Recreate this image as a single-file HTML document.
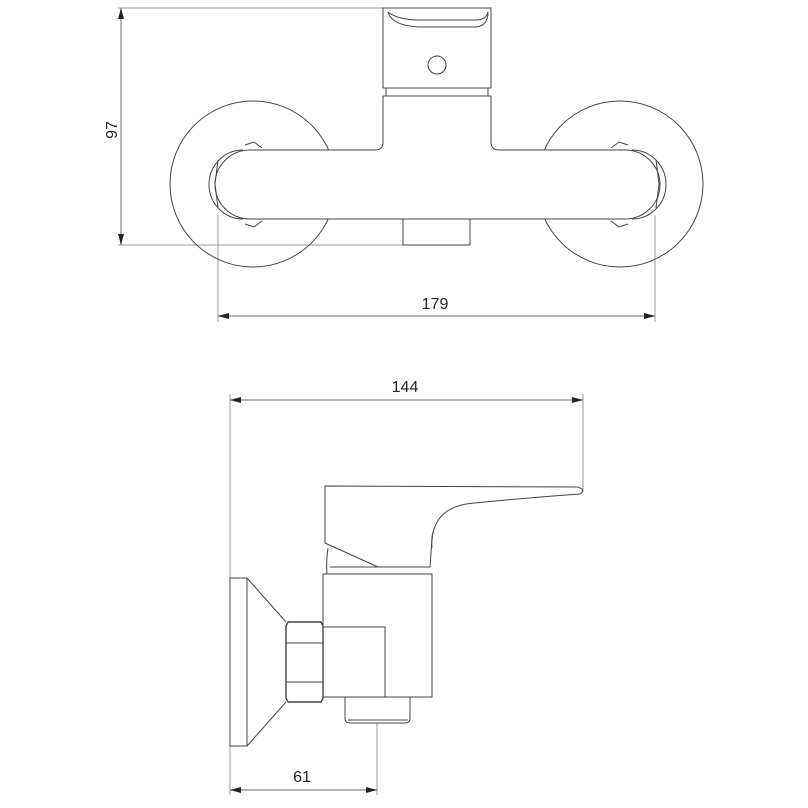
<!DOCTYPE html>
<html><head><style>
html,body{margin:0;padding:0;background:#fff;}
svg{display:block;}
text{font-family:"Liberation Sans",sans-serif;font-size:16px;fill:#222;}
</style></head><body>
<svg width="808" height="808" viewBox="0 0 808 808" xmlns="http://www.w3.org/2000/svg">
<g fill="none" stroke="#999" stroke-width="1">
<line x1="118" y1="8" x2="385" y2="8"/>
<line x1="118" y1="245" x2="470" y2="245"/>
<line x1="218" y1="215" x2="218" y2="322"/>
<line x1="655" y1="215" x2="655" y2="322"/>
<line x1="230" y1="394" x2="230" y2="795"/>
<line x1="583" y1="394" x2="583" y2="492"/>
<line x1="377" y1="723" x2="377" y2="795"/>
</g>
<g fill="none" stroke="#888" stroke-width="1.2">
<line x1="121" y1="8" x2="121" y2="245"/>
<line x1="218" y1="316" x2="655" y2="316"/>
<line x1="230" y1="400" x2="583" y2="400"/>
<line x1="230" y1="790" x2="377" y2="790"/>
</g>
<g fill="#222">
<polygon points="121,8 118,19 124,19"/>
<polygon points="121,245 118,234 124,234"/>
<polygon points="218,316 229,313 229,319"/>
<polygon points="655,316 644,313 644,319"/>
<polygon points="230,400 241,397 241,403"/>
<polygon points="583,400 572,397 572,403"/>
<polygon points="230,790 241,787 241,793"/>
<polygon points="377,790 366,787 366,793"/>
</g>
<text x="435" y="309" text-anchor="middle">179</text>
<text x="405" y="392" text-anchor="middle">144</text>
<text x="302" y="782" text-anchor="middle">61</text>
<text x="0" y="0" text-anchor="middle" transform="translate(117,130) rotate(-90)">97</text>

<g fill="none" stroke="#444" stroke-width="1">
<circle cx="253" cy="184" r="83"/>
<circle cx="620" cy="184" r="83"/>
<rect x="403" y="219" width="67" height="26" fill="#fff"/>
<path d="M383,8 H491 V88 H383 Z" fill="#fff"/>
<path d="M388,12 Q392,26 420,27 H476 Q488,26 488,12" />
<path d="M388,12 Q398,20 420,20 H476 Q486,20 488,12"/>
<circle cx="437" cy="65" r="9"/>
<rect x="386" y="88" width="102" height="8"/>
<path d="M250,150 H375 Q383,150 383,142 V96 H491 V142 Q491,150 499,150 H625 A35,34.5 0 0 1 625,219 H250 A35,34.5 0 0 1 250,150 Z" fill="#fff"/>
<path d="M245,145 L254,142 L262,148 M245,224 L254,227 L262,221 M218,160 L215,184 L218,208"/>
<path d="M628,145 L619,142 L611,148 M628,224 L619,227 L611,221 M656,160 L659,184 L656,208"/>
<path d="M243,150 A34,34.5 0 0 0 243,219"/>
<path d="M632,150 A34,34.5 0 0 1 632,219"/>
<rect x="230" y="578" width="17" height="168"/>
<path d="M247,578 L286,622 M247,746 L286,702"/>
<rect x="323" y="574" width="109" height="123" fill="#fff"/>
<rect x="323" y="627" width="62" height="70"/>
<path d="M345,697 V718 Q345,723 350,723 H405 Q410,723 410,718 V697"/>
<line x1="348" y1="720" x2="408" y2="720"/>
<path d="M288,622 H321 L323,626 V698 L321,702 H288 L286,698 V626 Z" stroke-width="1.4"/>
<line x1="286" y1="643" x2="323" y2="643"/>
<line x1="286" y1="682" x2="323" y2="682"/>
<path d="M328,548 Q326,560 327,574 M330,567 H430"/>
<path d="M325,486 L578,487 Q586,490 580,494 Q500,500 466,504 Q434,510 432,540 L430,567 H378 L325,543 Z" fill="#fff"/>
<path d="M433,532 Q431,540 432,548"/>
</g>
</svg>
</body></html>
